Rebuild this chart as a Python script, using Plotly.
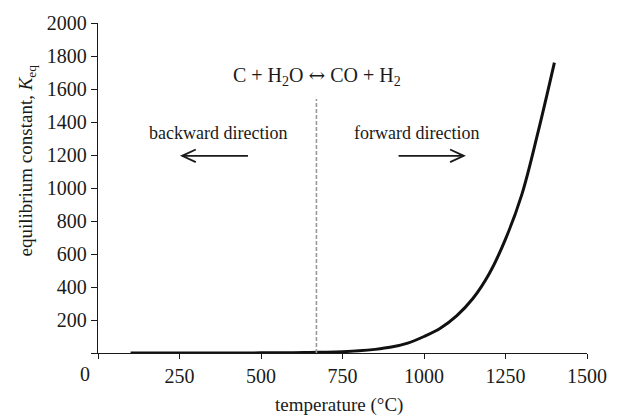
import plotly.graph_objects as go

# data
temperature_c = [100, 200, 300, 400, 500, 600, 650, 700, 750, 800, 850, 900, 950,
                 1000, 1050, 1100, 1150, 1200, 1250, 1300, 1350, 1400]
k_eq = [0.0, 0.0, 0.1, 0.3, 0.8, 2, 3, 5, 8, 13, 22, 36, 60,
        100, 150, 225, 330, 480, 690, 960, 1340, 1760]
x_ticks = [0, 250, 500, 750, 1000, 1250, 1500]
y_ticks = [0, 200, 400, 600, 800, 1000, 1200, 1400, 1600, 1800, 2000]
divider_t = 670
divider_top = 1540

FONT = "Liberation Serif"
INK = "#1a1a1a"

fig = go.Figure()
fig.add_trace(go.Scatter(x=temperature_c, y=k_eq, mode="lines",
                         line=dict(color="#111111", width=3, shape="spline", smoothing=1.0),
                         hoverinfo="skip", showlegend=False))
fig.add_trace(go.Scatter(x=[divider_t, divider_t], y=[0, divider_top], mode="lines",
                         line=dict(color="#9a9a9a", width=1.6, dash="4px,2px"),
                         hoverinfo="skip", showlegend=False))

# arrows (shaft + open V head) in data coordinates
def arrow(x0, x1, y, color=INK):
    d = 1 if x1 > x0 else -1
    hx, hy = 42, 38
    fig.add_shape(type="line", x0=x0, x1=x1, y0=y, y1=y, xref="x", yref="y",
                  line=dict(color=color, width=1.8))
    fig.add_shape(type="path",
                  path=f"M {x1 - d*hx},{y + hy} L {x1},{y} L {x1 - d*hx},{y - hy}",
                  xref="x", yref="y", line=dict(color=color, width=1.8))

arrow(460, 258, 1195)
arrow(922, 1122, 1195)

fig.update_layout(
    width=619, height=416,
    margin=dict(l=97.5, r=24.5, t=21.7, b=63.3),
    paper_bgcolor="white", plot_bgcolor="white",
    font=dict(family=FONT, size=19, color=INK),
    xaxis=dict(range=[0, 1500], tickvals=x_ticks,
               ticktext=["" if v == 0 else str(v) for v in x_ticks],
               showgrid=False, zeroline=False, showline=True, linecolor=INK, linewidth=1.3,
               ticks="outside", ticklen=5, tickwidth=1.3, tickcolor=INK,
               tickfont=dict(family=FONT, size=20, color=INK)),
    yaxis=dict(range=[0, 2000], tickvals=y_ticks,
               ticktext=["" if v == 0 else str(v) for v in y_ticks],
               showgrid=False, zeroline=False, showline=True, linecolor=INK, linewidth=1.3,
               ticks="outside", ticklen=6, tickwidth=1.3, tickcolor=INK,
               tickfont=dict(family=FONT, size=20, color=INK)),
)

L, R, T, B = 97.5, 594.5, 21.7, 352.7
def px(xp):
    return (xp - L) / (R - L)
def py(yp):
    return (B - yp) / (B - T)

ann = [
    dict(text="0", x=px(84), y=py(374)),
    dict(text="temperature (°C)", x=px(342), y=py(405), font=dict(size=19)),
    dict(text="equilibrium constant, <i>K</i><sub>eq</sub>", x=px(25), y=py(160),
         textangle=-90, font=dict(size=19)),
    dict(text="C + H<sub>2</sub>O <span style='font-family:DejaVu Serif'>↔</span> CO + H<sub>2</sub>",
         x=px(320), y=py(75), font=dict(size=20)),
    dict(text="backward direction", x=px(219), y=py(131.7), font=dict(size=18)),
    dict(text="forward direction", x=px(421), y=py(131.7), font=dict(size=18)),
]
for a in ann:
    a.update(xref="paper", yref="paper", xanchor="center", yanchor="middle", showarrow=False)
    a.setdefault("font", dict(size=20))
fig.update_layout(annotations=ann)

fig.write_html("out.html")
